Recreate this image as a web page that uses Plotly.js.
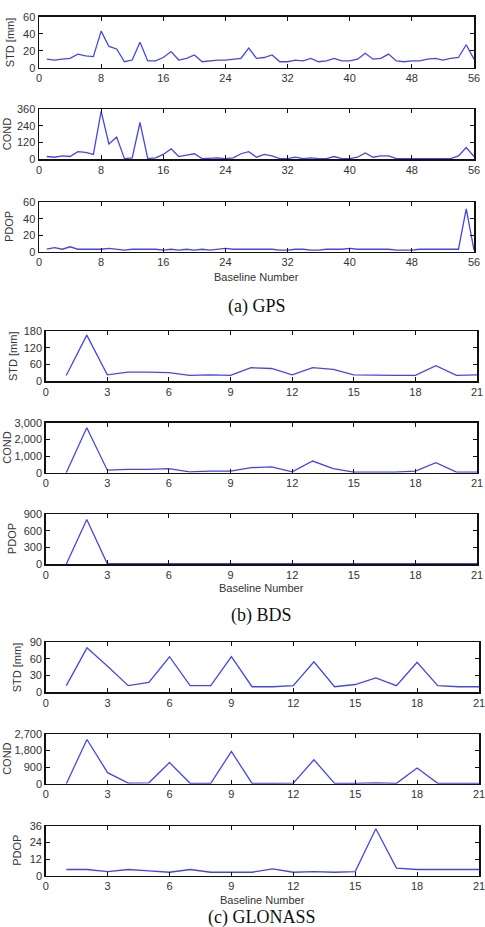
<!DOCTYPE html>
<html>
<head>
<meta charset="utf-8">
<script src="https://cdn.plot.ly/plotly-3.0.1.min.js"></script>
<style>html,body{margin:0;padding:0;background:#fff;}#chart{width:485px;height:927px;}</style>
</head>
<body>
<div id="chart"></div>
<script>
// ---------- DATA ----------
const gpsBaselines = Array.from({length: 56}, (_, i) => i + 1);
const gpsSTD = [10,9,10,11,16,14,13,43,25,22,7,9,30,8,8,12,19,9,11,15,7,8,9,9,10,11,23,11,12,15,7,7,9,8,11,7,8,11,8,8,10,17,10,11,16,8,7,8,8,10,11,9,11,12,27,10];
const gpsCOND = [20,15,25,20,55,50,35,345,110,160,5,10,265,5,10,35,75,20,30,40,5,10,10,5,10,40,55,15,35,25,5,5,15,5,10,5,5,20,5,5,15,45,15,25,25,5,5,5,10,5,10,10,5,25,85,20];
const gpsPDOP = [3,5,3,6,3,3,3,3,4,3,2,3,3,3,3,2,3,2,3,2,3,2,3,4,3,3,3,3,3,3,2,2,3,3,2,2,3,3,3,4,3,3,3,3,3,2,2,2,3,3,3,3,3,3,52,2];

const bdsBaselines = Array.from({length: 21}, (_, i) => i + 1);
const bdsSTD = [20,165,22,32,32,30,20,22,20,48,45,22,48,42,22,20,20,20,55,20,22];
const bdsCOND = [0,2700,150,200,200,250,50,100,100,300,350,50,700,250,30,30,30,100,600,30,30];
const bdsPDOP = [0,800,10,10,10,10,10,10,10,10,10,10,10,10,10,10,10,10,10,10,10];

const gloBaselines = Array.from({length: 21}, (_, i) => i + 1);
const gloSTD = [12,80,47,12,18,64,12,12,64,10,10,12,55,10,14,26,12,54,12,10,10];
const gloCOND = [0,2400,600,30,50,1150,20,20,1750,20,20,30,1300,20,20,50,20,850,20,20,20];
const gloPDOP = [4.5,4.5,3,4.5,3.5,2.5,4.5,2.5,2.5,2.5,5,2.5,3,2.5,3,34,5.5,4.5,4.5,4.5,4.5];

const yTitles = ['STD [mm]','COND','PDOP'];
const captions = ['(a) GPS','(b) BDS','(c) GLONASS'];
const xTitle = 'Baseline Number';

// ---------- LAYOUT ----------
const W = 485, H = 927;
const panels = [
  {x: gpsBaselines, y: gpsSTD,  box:[39,474,16.7,67.7],   xr:[0,56], xd:8, yr:[0,60],   yd:20,   fmt:'',   yt:0, tx:10},
  {x: gpsBaselines, y: gpsCOND, box:[39,474,109.3,159.3], xr:[0,56], xd:8, yr:[0,360],  yd:120,  fmt:'',   yt:1, tx:7},
  {x: gpsBaselines, y: gpsPDOP, box:[39,474,202.3,251.7], xr:[0,56], xd:8, yr:[0,60],   yd:20,   fmt:'',   yt:2, tx:9},
  {x: bdsBaselines, y: bdsSTD,  box:[45.7,477,331,381],   xr:[0,21], xd:3, yr:[0,180],  yd:60,   fmt:'',   yt:0, tx:13},
  {x: bdsBaselines, y: bdsCOND, box:[45.7,477,422.7,472.7],xr:[0,21],xd:3, yr:[0,3000], yd:1000, fmt:',d', yt:1, tx:7},
  {x: bdsBaselines, y: bdsPDOP, box:[45.7,477,514,564.3], xr:[0,21], xd:3, yr:[0,900],  yd:300,  fmt:'',   yt:2, tx:12},
  {x: gloBaselines, y: gloSTD,  box:[45.7,479,642.3,692.3],xr:[0,21],xd:3, yr:[0,90],   yd:30,   fmt:'',   yt:0, tx:17},
  {x: gloBaselines, y: gloCOND, box:[45.7,479,734,783.7], xr:[0,21], xd:3, yr:[0,2700], yd:900,  fmt:',d', yt:1, tx:7},
  {x: gloBaselines, y: gloPDOP, box:[45.7,479,826,875.7], xr:[0,21], xd:3, yr:[0,36],   yd:12,   fmt:'',   yt:2, tx:17}
];

const traces = [];
const layout = {
  width: W, height: H,
  margin: {l:0, r:0, t:0, b:0},
  paper_bgcolor: '#fff', plot_bgcolor: '#fff',
  showlegend: false,
  font: {family: 'Liberation Sans, Arial, sans-serif', size: 11, color: '#333'},
  annotations: []
};

panels.forEach((p, i) => {
  const n = i + 1;
  const xa = 'xaxis' + (n === 1 ? '' : n), ya = 'yaxis' + (n === 1 ? '' : n);
  const xs = 'x' + (n === 1 ? '' : n), ys = 'y' + (n === 1 ? '' : n);
  const [l, r, t, b] = p.box;
  traces.push({
    x: p.x, y: p.y, type: 'scatter', mode: 'lines',
    xaxis: xs, yaxis: ys,
    line: {color: 'rgb(70,70,230)', width: 1.3},
    hoverinfo: 'skip', cliponaxis: true
  });
  const common = {
    showline: true, linecolor: '#111', linewidth: 1.5, mirror: 'ticks',
    ticks: 'inside', ticklen: 4, tickcolor: '#111', tickwidth: 1,
    showgrid: false, zeroline: false, fixedrange: true,
    ticklabeloverflow: 'allow',
    tickfont: {family: 'Liberation Sans, Arial, sans-serif', size: 11, color: '#333'}
  };
  layout[xa] = Object.assign({}, common, {
    domain: [l / W, r / W], range: p.xr, tickmode: 'linear', tick0: 0, dtick: p.xd,
    anchor: ys
  });
  layout[ya] = Object.assign({}, common, {
    domain: [1 - b / H, 1 - t / H], range: p.yr, tickmode: 'linear', tick0: 0, dtick: p.yd,
    tickformat: p.fmt, separatethousands: true, anchor: xs
  });
  layout.annotations.push({
    text: yTitles[p.yt], xref: 'paper', yref: 'paper',
    x: p.tx / W, y: 1 - ((t + b) / 2) / H, xanchor: 'center', yanchor: 'middle',
    textangle: -90, showarrow: false,
    font: {family: 'Liberation Sans, Arial, sans-serif', size: 11, color: '#333'}
  });
});

const xTitleY = [276.7, 588, 900];
const captionY = [306.7, 615, 917];
const xCenters = [(39 + 474) / 2, (45.7 + 477) / 2, (45.7 + 479) / 2];
captions.forEach((c, k) => {
  layout.annotations.push({
    text: xTitle, xref: 'paper', yref: 'paper',
    x: xCenters[k] / W, y: 1 - xTitleY[k] / H, xanchor: 'center', yanchor: 'middle',
    showarrow: false, font: {family: 'Liberation Sans, Arial, sans-serif', size: 11, color: '#333'}
  });
  layout.annotations.push({
    text: c, xref: 'paper', yref: 'paper',
    x: xCenters[k] / W, y: 1 - captionY[k] / H, xanchor: 'center', yanchor: 'middle',
    showarrow: false, font: {family: 'Liberation Serif, Times New Roman, serif', size: 18, color: '#111'}
  });
});

Plotly.newPlot('chart', traces, layout, {staticPlot: true, displayModeBar: false});
</script>
</body>
</html>
